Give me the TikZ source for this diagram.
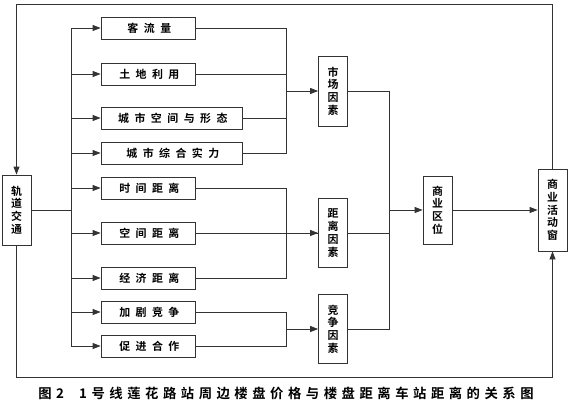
\documentclass[tikz,border=0pt]{standalone}
\usepackage{fontspec}
\setmainfont{Noto Sans CJK SC}[BoldFont={Noto Sans CJK SC Bold}]
\usetikzlibrary{arrows.meta}
\definecolor{lineGray}{HTML}{333333}

\begin{document}
\begin{tikzpicture}[x=0.75pt, y=-0.75pt, line width=0.6pt, draw=lineGray,
    every node/.style={font=\bfseries\fontsize{8.2pt}{9.6pt}\selectfont},
    box/.style={draw=lineGray, inner sep=0pt, minimum height=22*0.75pt, execute at begin node=\kern2pt,
      font=\bfseries\fontsize{8.2pt}{9.6pt}\selectfont\addfontfeature{LetterSpace=50}},
    vbox/.style={draw=lineGray, inner sep=0pt, minimum width=29*0.75pt, align=center},
    >={Triangle[length=6pt, width=4.5pt]}]
    \useasboundingbox (0,0) rectangle (570,408);
            % left boxes
            \node[box, minimum width=94*0.75pt] (kll) at (148,28) {客流量};
            \node[box, minimum width=94*0.75pt] (tdly) at (148,74) {土地利用};
            \node[box, minimum width=141*0.75pt] (cskj) at (171.5,118) {城市空间与形态};
            \node[box, minimum width=141*0.75pt] (cszh) at (171.5,153) {城市综合实力};
            \node[box, minimum width=94*0.75pt] (sjjl) at (148,188) {时间距离};
            \node[box, minimum width=94*0.75pt] (kjjl) at (148,233) {空间距离};
            \node[box, minimum width=94*0.75pt] (jjjl) at (148,278) {经济距离};
            \node[box, minimum width=94*0.75pt] (jjjz) at (148,312) {加剧竞争};
            \node[box, minimum width=94*0.75pt] (cjhz) at (148,346) {促进合作};
            % vertical boxes
            \node[vbox, minimum height=70*0.75pt] (gd) at (16.5,210) {轨\\道\\交\\通};
            \node[vbox, minimum height=70*0.75pt] (sc) at (333,91) {市\\场\\因\\素};
            \node[vbox, minimum height=69*0.75pt] (jl) at (333,233) {距\\离\\因\\素};
            \node[vbox, minimum height=69*0.75pt] (jz) at (333,329) {竞\\争\\因\\素};
            \node[vbox, minimum height=68*0.75pt] (qw) at (437.5,210) {商\\业\\区\\位};
            \node[vbox, minimum height=82*0.75pt] (hd) at (552.5,210) {商\\业\\活\\动\\窗};
            \coordinate (bus) at (71,0);
            \coordinate (mx) at (286,0);
            \coordinate (fx) at (389,0);
            \coordinate (top) at (0,4);
            \coordinate (bot) at (0,377);
            % rail transit to the factors
            \draw (gd.east) -- (gd.east -| bus);
            \draw (bus |- kll) -- (bus |- cjhz);
            \foreach \b in {kll,tdly,cskj,cszh,sjjl,kjjl,jjjl,jjjz,cjhz}
                \draw[->] (bus |- \b) -- (\b.west);
            % merging into the three factors
            \draw (kll.east) -- (kll.east -| mx) -- (cszh.east -| mx) -- (cszh.east);
            \draw (tdly.east) -- (tdly.east -| mx);
            \draw (cskj.east) -- (cskj.east -| mx);
            \draw[->] (sc.west -| mx) -- (sc.west);
            \draw (sjjl.east) -- (sjjl.east -| mx) -- (jjjl.east -| mx) -- (jjjl.east);
            \draw (kjjl.east) -- (jl.west);
            \draw[->] (jl.west -| mx) -- (jl.west);
            \draw (jjjz.east) -- (jjjz.east -| mx) -- (cjhz.east -| mx) -- (cjhz.east);
            \draw[->] (jz.west -| mx) -- (jz.west);
            \draw (sc.east) -- (sc.east -| fx) -- (jz.east -| fx) -- (jz.east);
            \draw (jl.east) -- (jl.east -| fx);
            \draw[->] (qw.west -| fx) -- (qw.west);
            \draw[->] (qw.east) -- (hd.west);
            % feedback loops
            \draw[->] (hd.north) -- (hd.north |- top) -- (gd.north |- top) -- (gd.north);
            \draw[->] (gd.south) -- (gd.south |- bot) -- (hd.south |- bot) -- (hd.south);
            \node[font=\bfseries\fontsize{10pt}{12pt}\selectfont\addfontfeature{LetterSpace=34}] (cap) at (286,393) {图2\ \ 1号线莲花路站周边楼盘价格与楼盘距离车站距离的关系图};
        \end{tikzpicture}
\end{document}
